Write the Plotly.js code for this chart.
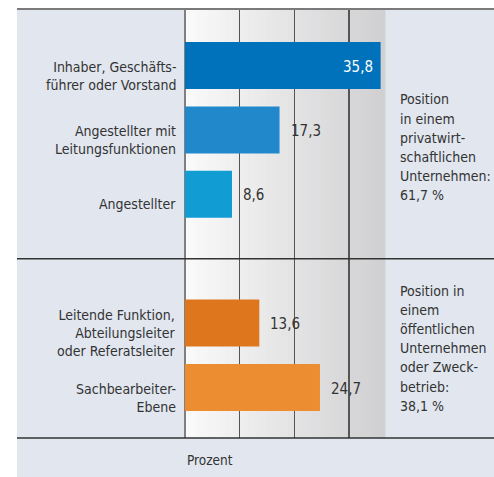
<!DOCTYPE html>
<html><head><meta charset="utf-8">
<script src="https://cdn.plot.ly/plotly-3.0.1.min.js"></script>
<style>html,body{margin:0;padding:0;background:#fff;}#chart{width:494px;height:477px;}</style>
</head><body><div id="chart"></div>
<script>
// ---- data ----
const categories = [
  "Inhaber, Geschäfts-<br>führer oder Vorstand",
  "Angestellter mit<br>Leitungsfunktionen",
  "Angestellter",
  "Leitende Funktion,<br>Abteilungsleiter<br>oder Referatsleiter",
  "Sachbearbeiter-<br>Ebene"
];
const groups = ["privat", "privat", "privat", "oeffentlich", "oeffentlich"];
const values = [35.8, 17.3, 8.6, 13.6, 24.7];
const barColors = ["#0072BB", "#2189CB", "#129CD4", "#DE761D", "#EC8D31"];
const groupLabels = {
  privat: "Position<br>in einem<br>privatwirt-<br>schaftlichen<br>Unternehmen:<br>61,7 %",
  oeffentlich: "Position in<br>einem<br>öffentlichen<br>Unternehmen<br>oder Zweck-<br>betrieb:<br>38,1 %"
};
const axisTitle = "Prozent";
const xMax = 36.6;

// ---- layout helpers ----
const FONT = '"DejaVu Sans Condensed", "Liberation Sans Narrow", Roboto, sans-serif';
const TXT = "#333333";
// positions with a gap between groups
const pos = [];
let p = 0;
groups.forEach((g, i) => { if (i > 0 && g !== groups[i - 1]) p += 1; pos.push(p); if (i < groups.length - 1) p += 1; });

const W = 494, H = 477, L = 185, R = 385, T = 8, B = 438;
const px2x = v => (v - L) / (R - L);
const py2y = v => (B - v) / (B - T);

const shapes = [];
// panel background
shapes.push({type: "rect", xref: "paper", yref: "paper", x0: px2x(17), x1: px2x(W + 2), y0: py2y(H + 2), y1: py2y(T),
  fillcolor: "#E1E6EF", line: {width: 0}, layer: "below"});
// gradient plot background
const N = 60;
for (let k = 0; k < N; k++) {
  const t = k / (N - 1);
  const c = Math.round(250 - t * 42);
  const cb = Math.round(250 - t * 40);
  shapes.push({type: "rect", xref: "paper", yref: "paper", x0: k / N, x1: (k + 1) / N + 0.002, y0: 0, y1: 1,
    fillcolor: `rgb(${c},${c},${cb})`, line: {width: 0}, layer: "below"});
}
// top line
shapes.push({type: "line", xref: "paper", yref: "paper", x0: px2x(17), x1: px2x(W + 2), y0: py2y(9), y1: py2y(9),
  line: {color: "#7A7A7A", width: 2}, layer: "above"});
// group separators
for (let i = 1; i < groups.length; i++) {
  if (groups[i] !== groups[i - 1]) {
    const ym = (pos[i] + pos[i - 1]) / 2;
    shapes.push({type: "line", xref: "paper", yref: "y", x0: px2x(17), x1: px2x(W + 2), y0: ym, y1: ym,
      line: {color: "#333333", width: 1.5}, layer: "above"});
  }
}
// bottom line
shapes.push({type: "line", xref: "paper", yref: "paper", x0: px2x(17), x1: px2x(W + 2), y0: 0, y1: 0,
  line: {color: "#333333", width: 1.5}, layer: "above"});

const annotations = [];
// category labels
categories.forEach((c, i) => {
  annotations.push({xref: "paper", yref: "y", x: 0, y: pos[i], xanchor: "right", yanchor: "middle", align: "right",
    xshift: -7, yshift: -10, text: c, showarrow: false, font: {family: FONT, size: 14, color: TXT}});
});
// value labels
values.forEach((v, i) => {
  const inside = v > 0.9 * xMax;
  annotations.push({xref: "x", yref: "y", x: v, y: pos[i], xanchor: inside ? "right" : "left", yanchor: "middle",
    xshift: inside ? -6 : 9, yshift: -1, text: v.toFixed(1).replace(".", ","), showarrow: false,
    font: {family: FONT, size: 15, color: inside ? "#FFFFFF" : TXT}});
});
// group labels, one annotation per line for tighter control of leading
const groupNames = [...new Set(groups)];
const groupY = {privat: 1.27, oeffentlich: 4.39};
const LEAD = 19.2;
groupNames.forEach(g => {
  const lines = groupLabels[g].split("<br>");
  const n = lines.length;
  lines.forEach((ln, j) => {
    annotations.push({xref: "paper", yref: "y", x: px2x(398), y: groupY[g], xanchor: "left", yanchor: "middle", align: "left",
      yshift: -(j - (n - 1) / 2) * LEAD, text: ln, showarrow: false, font: {family: FONT, size: 14, color: TXT}});
  });
});
// axis title
annotations.push({xref: "paper", yref: "paper", x: 0, y: py2y(460), xanchor: "left", yanchor: "middle",
  text: axisTitle, showarrow: false, font: {family: FONT, size: 13.5, color: TXT}});

const trace = {
  type: "bar", orientation: "h", x: values, y: pos, width: 0.73,
  marker: {color: barColors, line: {width: 0}}, hoverinfo: "skip"
};

const lastPos = pos[pos.length - 1];
const layout = {
  width: W, height: H,
  margin: {l: L, r: W - R, t: T, b: H - B, pad: 0},
  paper_bgcolor: "#FFFFFF", plot_bgcolor: "rgba(0,0,0,0)",
  showlegend: false,
  xaxis: {range: [0, xMax], dtick: 10, tick0: 0, showgrid: true, gridcolor: "#555555", gridwidth: 1.2,
    zeroline: true, zerolinecolor: "#808080", zerolinewidth: 1.2, showticklabels: false, ticks: "", fixedrange: true, showline: false},
  yaxis: {range: [lastPos + 0.784, -0.893], showgrid: false, zeroline: false, showticklabels: false, ticks: "", showline: false, fixedrange: true},
  shapes: shapes, annotations: annotations,
  font: {family: FONT, color: TXT}
};
Plotly.newPlot("chart", [trace], layout, {displayModeBar: false, staticPlot: true});
</script></body></html>
